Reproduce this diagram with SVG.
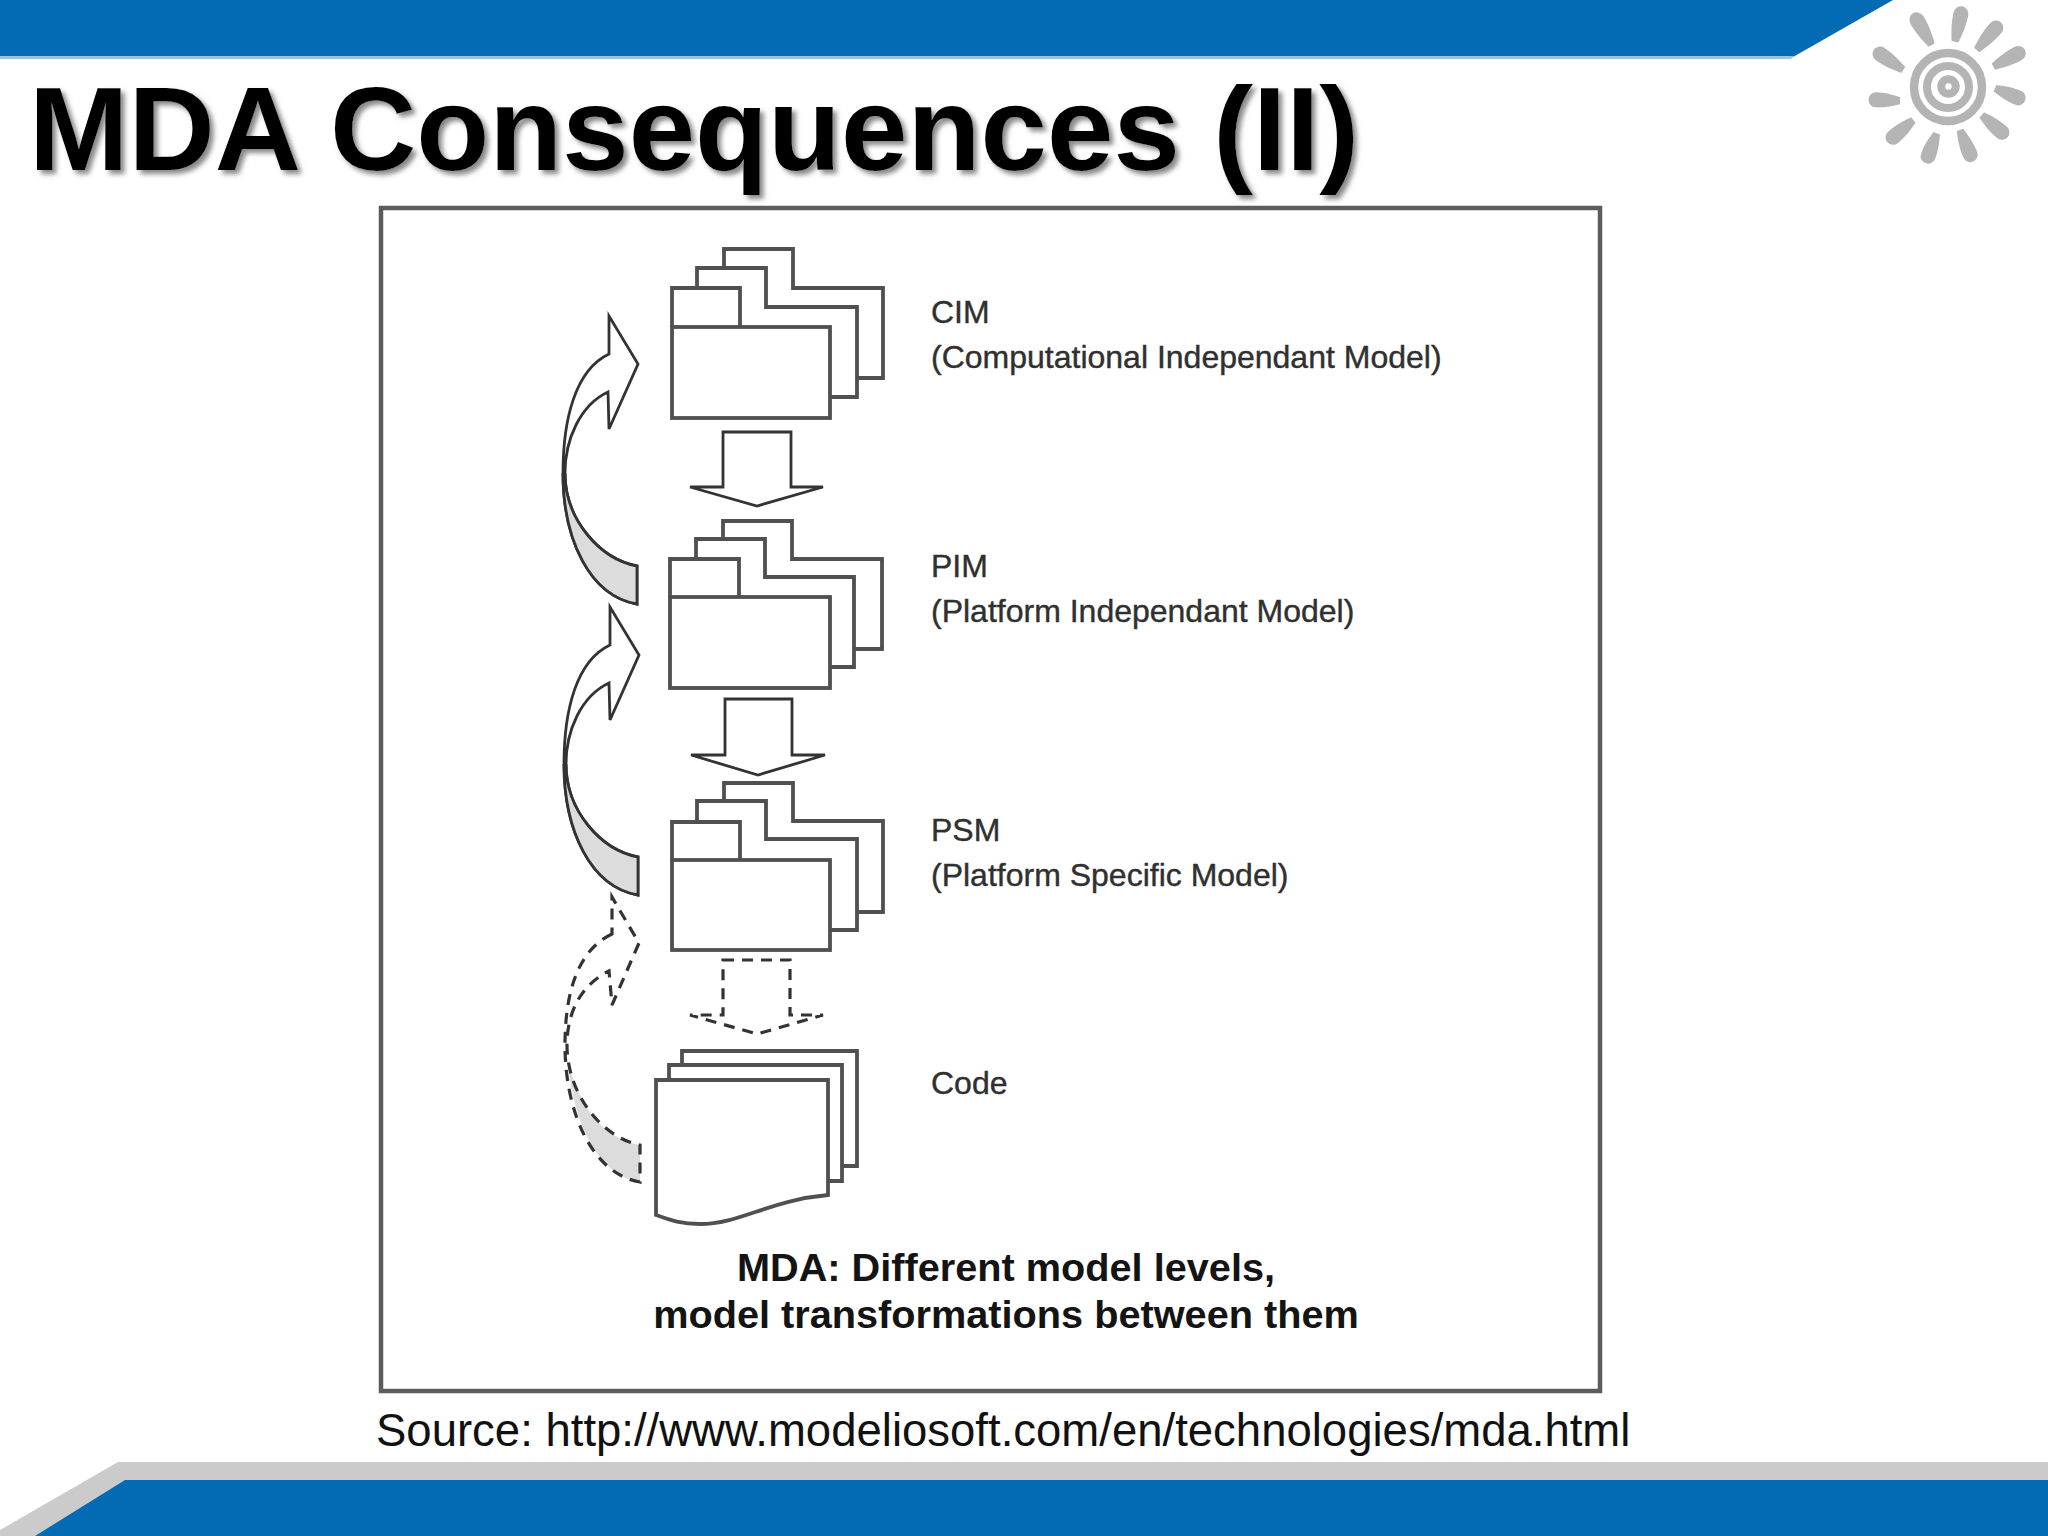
<svg xmlns="http://www.w3.org/2000/svg" width="2048" height="1536" viewBox="0 0 2048 1536">
<defs>
<style>
.f{fill:#fff;stroke:#505050;stroke-width:3.8;stroke-linejoin:miter}
.c{fill:#fff;stroke:#333;stroke-width:2.8;stroke-linejoin:miter}
.g{fill:#dcdcdc;stroke:none}
.l{fill:none;stroke:#333;stroke-width:2.8}
.d{stroke-dasharray:11 8;stroke-width:3.2}
.s{fill:#b4b4b4}
.t{font-family:"Liberation Sans",Arial,sans-serif;fill:#303030;stroke:#303030;stroke-width:.4;font-size:32px}
.b{font-family:"Liberation Sans",Arial,sans-serif;fill:#141414;font-size:39.7px;font-weight:bold;text-anchor:middle}
</style>
<filter id="sh" x="-5%" y="-20%" width="110%" height="140%"><feDropShadow dx="4" dy="4" stdDeviation="2.5" flood-color="#888"/></filter>
<path id="ray" d="M-3.5 0C-5.5 -8 -7.5 -15 -7.5 -26A7.5 7.5 0 0 1 7.5 -26C7.5 -15 5.5 -8 3.5 0Z" class="s"/>
<path id="curve" d="M46 38C12 54 0 104 0 157C0 224 27 280 74 288L74 250C37 243 2 204 2 157C2 124 17 89 45 76L46 113L75 48L46 0Z"/>
</defs>
<rect width="2048" height="1536" fill="#fff"/>
<g id="banner">
<path d="M0 0H1893L1793 57H0Z" fill="#036bb3"/>
<path d="M0 56H1794L1791 59H0Z" fill="#9cc4e0"/>
<path d="M118 1462H2048V1536H0V1530Z" fill="#cbcbcb"/>
<path d="M125 1480H2048V1536H35Z" fill="#036bb3"/>
</g>
<g id="sun">
<use href="#ray" transform="translate(1931.7 45) rotate(-30.5) scale(1 1.1)"/>
<use href="#ray" transform="translate(1955 41.7) rotate(12) scale(1 1.08)"/>
<use href="#ray" transform="translate(1976.7 50) rotate(41) scale(1 1.1)"/>
<use href="#ray" transform="translate(1993.3 66.7) rotate(62) scale(1 1.07)"/>
<use href="#ray" transform="translate(1995 88.3) rotate(112.4) scale(1 .97)"/>
<use href="#ray" transform="translate(1981.7 115) rotate(130.6) scale(1 1.02)"/>
<use href="#ray" transform="translate(1960 130) rotate(157.5) scale(1 1.02)"/>
<use href="#ray" transform="translate(1936.7 133.3) rotate(200.5) scale(1 .95)"/>
<use href="#ray" transform="translate(1913.3 120) rotate(-130.6) scale(1 1.02)"/>
<use href="#ray" transform="translate(1900 100.7) rotate(-88) scale(1 .94)"/>
<use href="#ray" transform="translate(1903.3 70) rotate(-55.6) scale(1 1.07)"/>
<circle cx="1948" cy="87" r="34" fill="none" stroke="#b4b4b4" stroke-width="8.5"/>
<circle cx="1948" cy="87" r="21" fill="none" stroke="#b4b4b4" stroke-width="8"/>
<circle cx="1948.5" cy="86.5" r="7.2" fill="none" stroke="#b4b4b4" stroke-width="8"/>
</g>
<text filter="url(#sh)" x="29" y="170" style="font-family:'Liberation Sans',Arial,sans-serif;font-size:119.5px;font-weight:bold;fill:#000">MDA Consequences (II)</text>
<rect id="frame" x="381" y="208" width="1219" height="1183" fill="#fff" stroke="#5c5c5c" stroke-width="4.5"/>
<g id="cim">
<path class="f" d="M724 288V249H793V288H883V378H857"/>
<path class="f" d="M697 288V268H766V307H857V397H830"/>
<path class="f" d="M672 327V288H740V327"/>
<rect class="f" x="672" y="327" width="158" height="91"/>
<text class="t" x="931" y="323">CIM</text>
<text class="t" x="931" y="368">(Computational Independant Model)</text>
</g>
<g id="pim">
<path class="f" d="M723 559V521H792V559H882V649H854"/>
<path class="f" d="M696 559V539H765V577H854V667H830"/>
<path class="f" d="M670 597V559H739V597"/>
<rect class="f" x="670" y="597" width="160" height="91"/>
<text class="t" x="931" y="577">PIM</text>
<text class="t" x="931" y="622">(Platform Independant Model)</text>
</g>
<g id="psm">
<path class="f" d="M724 821V783H793V821H883V912H857"/>
<path class="f" d="M697 822V801H766V839H857V930H830"/>
<path class="f" d="M672 860V822H740V860"/>
<rect class="f" x="672" y="860" width="158" height="90"/>
<text class="t" x="931" y="841">PSM</text>
<text class="t" x="931" y="886">(Platform Specific Model)</text>
</g>
<g id="code">
<path class="f" d="M682 1065V1051H857V1166H842"/>
<path class="f" d="M669 1080V1065H842V1181H828"/>
<path class="f" d="M656 1080H828V1195C770 1200 740 1224 700 1224C680 1224 670 1220 656 1215Z"/>
<text class="t" x="931" y="1094">Code</text>
</g>
<g id="connectors">
<path class="c" d="M723 432H791V487H823L757 506L690 487H723Z"/>
<path class="c" d="M725 699H792V755H825L758 775L691 755H725Z"/>
<path class="c d" d="M723 960H790V1015H823L757 1034L690 1015H723Z"/>
<g transform="translate(563 316)">
<use href="#curve" class="c"/>
<path class="g" d="M1 170C6 240 32 280 74 288L74 250C40 244 12 215 1 170Z"/>
<path class="l" d="M0 157C0 224 27 280 74 288L74 250C37 243 2 204 2 157"/>
</g>
<g transform="translate(564 607)">
<use href="#curve" class="c"/>
<path class="g" d="M1 170C6 240 32 280 74 288L74 250C40 244 12 215 1 170Z"/>
<path class="l" d="M0 157C0 224 27 280 74 288L74 250C37 243 2 204 2 157"/>
</g>
<g transform="translate(565 897)">
<path class="g" d="M2 160C8 225 32 278 75 285L75 248C40 242 14 212 2 160Z"/>
<path class="l d" d="M47 37C13 53 0 95 0 148C0 215 27 277 75 285L75 248C38 241 2 198 2 148C2 115 16 88 44 74L47 108L74 46L47 0Z"/>
</g>
</g>
<g id="caption">
<text class="b" x="1006" y="1281">MDA: Different model levels,</text>
<text class="b" x="1006" y="1328">model transformations between them</text>
</g>
<text x="376" y="1446" style="font-family:'Liberation Sans',Arial,sans-serif;font-size:45.5px;fill:#111">Source: http://www.modeliosoft.com/en/technologies/mda.html</text>
</svg>
